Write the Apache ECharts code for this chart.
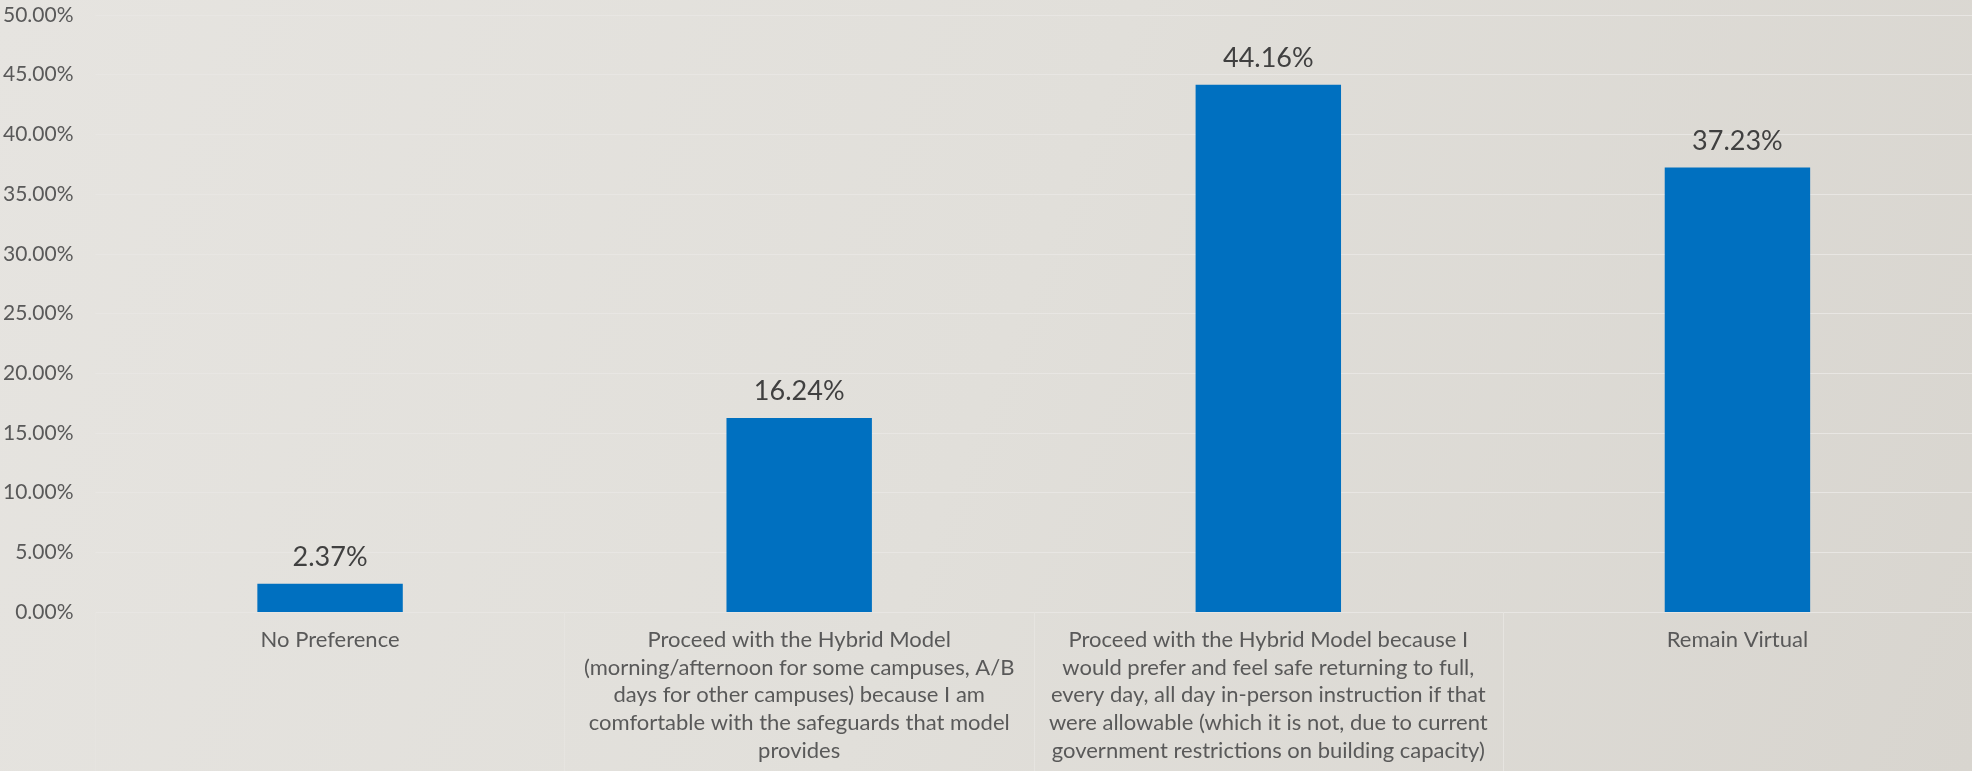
<!DOCTYPE html>
<html>
<head>
<meta charset="utf-8">
<script src="https://cdn.jsdelivr.net/npm/echarts@6/dist/echarts.min.js"></script>
<style>
html,body{margin:0;padding:0;width:1972px;height:771px;overflow:hidden;}
#chart{width:1972px;height:771px;}
</style>
</head>
<body>
<div id="chart"></div>
<script>
const categories = [
  "No Preference",
  "Proceed with the Hybrid Model\n(morning/afternoon for some campuses, A/B\ndays for other campuses) because I am\ncomfortable with the safeguards that model\nprovides",
  "Proceed with the Hybrid Model because I\nwould prefer and feel safe returning to full,\nevery day, all day in-person instruction if that\nwere allowable (which it is not, due to current\ngovernment restrictions on building capacity)",
  "Remain Virtual"
];
const values = [2.37, 16.24, 44.16, 37.23];
const yMin = 0, yMax = 50, yStep = 5;

const chart = echarts.init(document.getElementById('chart'));
chart.setOption({
  backgroundColor: {
    type: 'linear', x: 0, y: 0, x2: 1, y2: 1,
    colorStops: [
      {offset: 0, color: '#e6e4e0'},
      {offset: 0.5, color: '#e1dfda'},
      {offset: 1, color: '#d8d5cf'}
    ]
  },
  animation: false,
  grid: {left: 94, right: 0, top: 15, bottom: 159, containLabel: false},
  xAxis: {
    type: 'category',
    data: categories,
    axisLine: {show: true, lineStyle: {color: '#e8e6e3', width: 1}},
    axisTick: {show: true, length: 159, lineStyle: {color: '#e6e4e0', width: 1}},
    axisLabel: {
      interval: 0, margin: 14, color: '#595959',
      fontFamily: 'Lato', fontSize: 22, lineHeight: 27.7, align: 'center'
    }
  },
  yAxis: {
    type: 'value', min: yMin, max: yMax, interval: yStep,
    axisLine: {show: false}, axisTick: {show: false},
    splitLine: {lineStyle: {color: '#e8e6e3', width: 1}},
    axisLabel: {
      margin: 22, color: '#595959', fontFamily: 'Lato', fontSize: 21,
      formatter: v => v.toFixed(2) + '%'
    }
  },
  series: [{
    type: 'bar',
    data: values,
    barWidth: '31%',
    itemStyle: {color: '#0070c0'},
    label: {
      show: true, position: 'top', distance: 13,
      color: '#404040', fontFamily: 'Lato', fontSize: 27,
      formatter: p => p.value.toFixed(2) + '%'
    }
  }]
});
</script>
</body>
</html>
